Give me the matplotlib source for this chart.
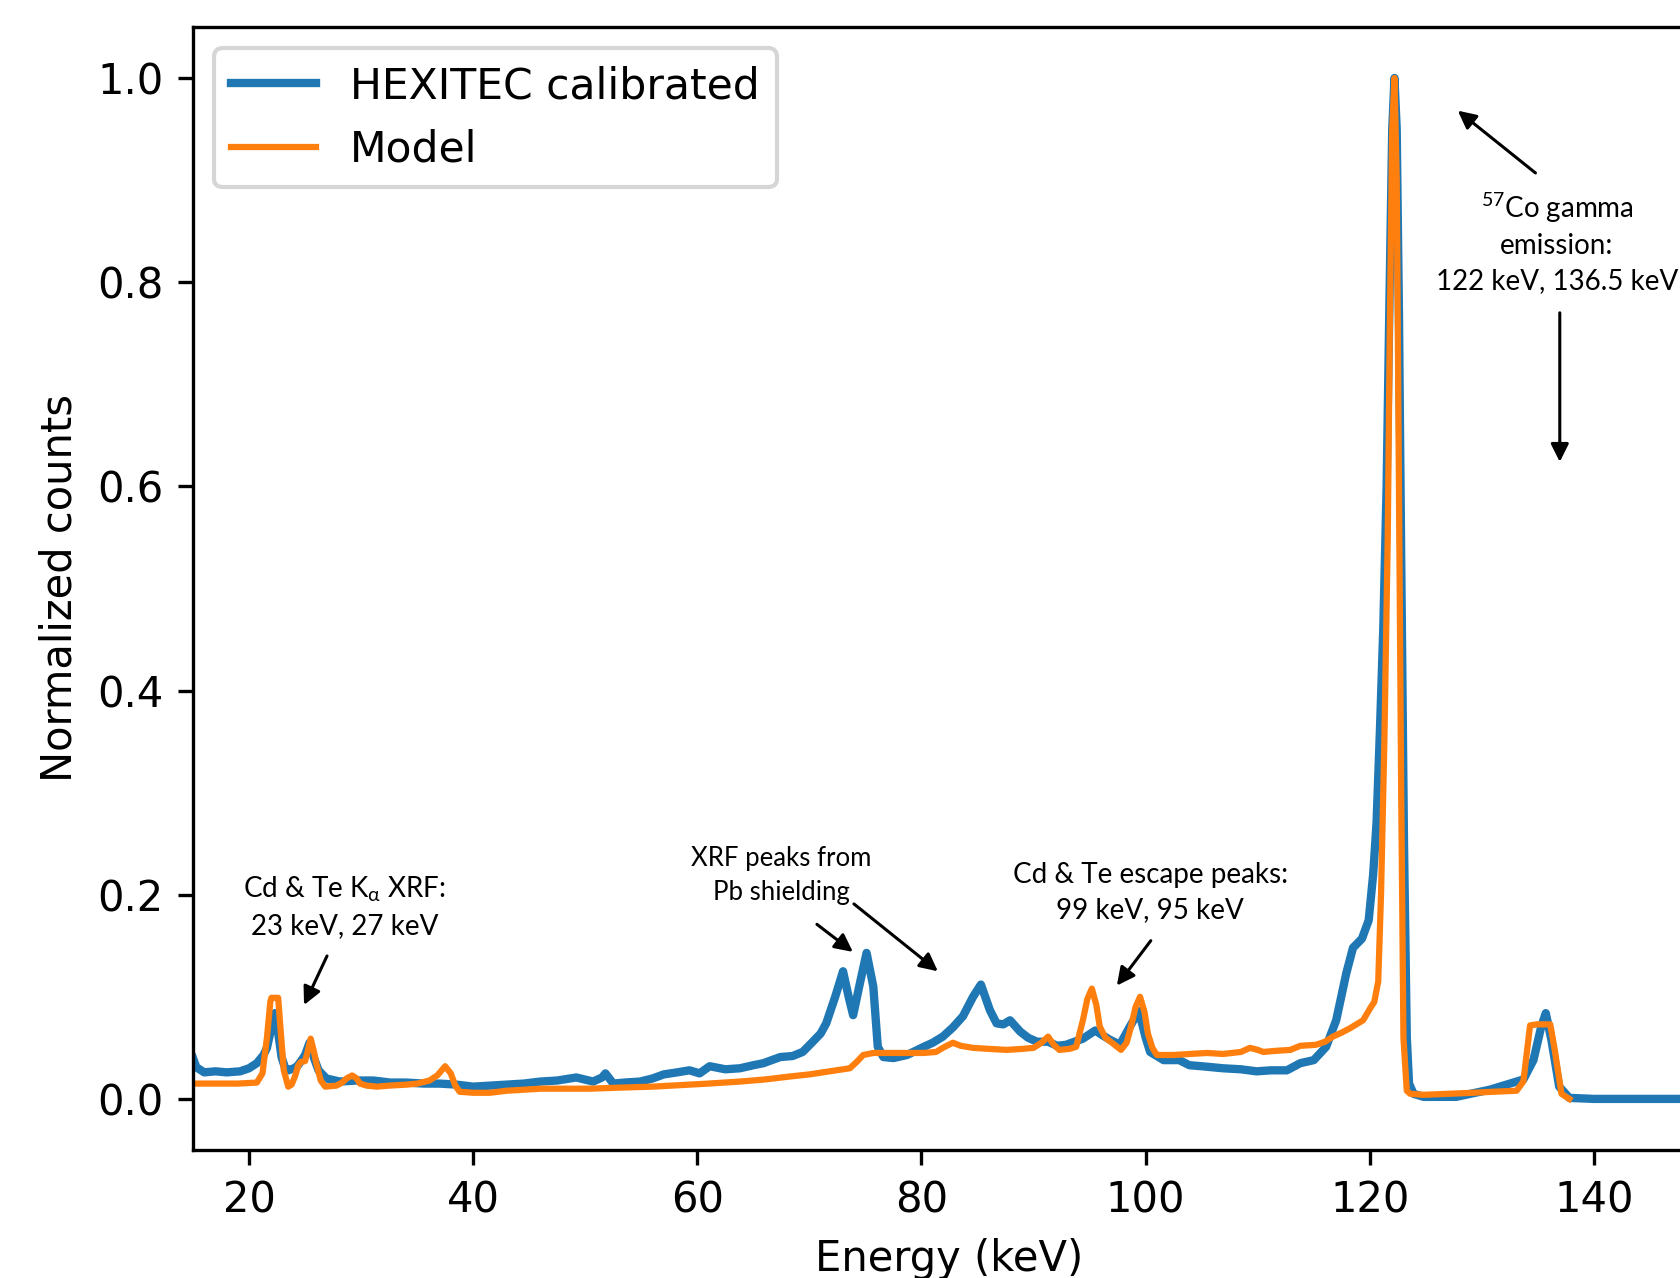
import numpy as np
import matplotlib
matplotlib.use("Agg")
import matplotlib.pyplot as plt

# HEXITEC calibrated spectrum
hex_energy = [15.0, 15.3, 16.0, 17.0, 18.0, 19.2, 20.0, 20.7, 21.3, 21.6, 22.0, 22.3, 22.6, 22.9,
              23.2, 23.5, 24.0, 24.3, 24.7, 25.0, 25.4, 25.8, 26.2, 26.9, 28.1, 29.6, 31.1, 32.6,
              34.0, 35.6, 37.0, 38.5, 40.0, 41.5, 43.0, 44.5, 46.0, 47.5, 49.2, 50.7, 51.5, 51.8,
              52.5, 53.5, 54.9, 56.0, 57.0, 58.2, 59.3, 60.2, 61.1, 62.5, 63.8, 65.0, 65.9, 67.4,
              68.5, 69.4, 70.3, 71.0, 71.5, 72.3, 73.0, 73.5, 73.9, 74.5, 75.1, 75.7, 76.1, 76.6,
              77.5, 78.7, 80.2, 81.0, 81.9, 82.8, 83.7, 84.6, 85.3, 86.1, 86.7, 87.3, 87.9, 88.8,
              89.5, 90.3, 91.3, 92.1, 92.9, 94.4, 95.5, 96.2, 96.8, 97.7, 98.6, 99.4, 100.0, 100.4,
              101.6, 103.0, 103.9, 105.0, 106.9, 108.5, 109.9, 111.2, 112.6, 113.8, 115.0, 116.1,
              117.0, 117.9, 118.5, 119.3, 119.9, 120.3, 120.6, 120.9, 121.2, 121.5, 121.75, 122.0,
              122.2, 122.4, 122.6, 122.8, 123.05, 123.3, 123.5, 123.9, 124.8, 127.7, 130.7, 132.2,
              133.7, 134.6, 135.3, 135.7, 136.2, 136.9, 137.8, 140.0, 150.0]
hex_counts = [0.040, 0.031, 0.026, 0.027, 0.026, 0.027, 0.030, 0.035, 0.043, 0.050, 0.070, 0.084,
              0.065, 0.041, 0.031, 0.028, 0.030, 0.032, 0.038, 0.043, 0.055, 0.040, 0.028, 0.020,
              0.017, 0.018, 0.018, 0.016, 0.016, 0.015, 0.015, 0.014, 0.012, 0.013, 0.014, 0.015,
              0.017, 0.018, 0.021, 0.017, 0.021, 0.025, 0.015, 0.016, 0.017, 0.020, 0.024, 0.026,
              0.028, 0.025, 0.032, 0.029, 0.030, 0.033, 0.035, 0.041, 0.042, 0.046, 0.056, 0.064,
              0.074, 0.100, 0.125, 0.100, 0.082, 0.113, 0.143, 0.110, 0.051, 0.041, 0.040, 0.043,
              0.051, 0.055, 0.061, 0.070, 0.081, 0.100, 0.112, 0.087, 0.074, 0.073, 0.077, 0.066,
              0.060, 0.056, 0.056, 0.052, 0.053, 0.059, 0.067, 0.062, 0.058, 0.053, 0.071, 0.086,
              0.060, 0.046, 0.038, 0.038, 0.033, 0.032, 0.030, 0.029, 0.027, 0.028, 0.028, 0.035,
              0.038, 0.051, 0.077, 0.123, 0.148, 0.157, 0.175, 0.22, 0.27, 0.36, 0.46, 0.60, 0.78,
              0.95, 1.0, 0.95, 0.77, 0.53, 0.25, 0.06, 0.015, 0.005, 0.002, 0.002, 0.009, 0.014,
              0.019, 0.038, 0.071, 0.084, 0.058, 0.012, 0.001, 0.0, 0.0]

# Model spectrum
model_energy = [15.0, 17.0, 19.0, 20.7, 21.2, 21.6, 21.9, 22.0, 22.6, 22.8, 23.1, 23.5, 23.8, 24.1,
                24.4, 24.6, 25.0, 25.2, 25.5, 25.8, 26.0, 26.4, 26.8, 27.8, 28.3, 28.7, 29.2, 29.6,
                29.9, 30.5, 31.4, 32.5, 34.1, 35.0, 36.1, 36.8, 37.5, 38.0, 38.4, 38.8, 40.0, 41.5,
                43.0, 44.5, 46.0, 48.0, 50.4, 53.0, 56.0, 59.3, 61.0, 63.8, 66.0, 68.3, 70.0, 71.8,
                73.6, 74.2, 74.8, 75.7, 77.8, 80.2, 81.3, 81.9, 82.8, 83.5, 84.6, 86.0, 87.6, 89.0,
                90.0, 90.7, 91.3, 91.8, 92.3, 93.2, 93.8, 94.4, 94.8, 95.2, 95.6, 95.9, 96.4, 97.0,
                97.8, 98.3, 98.7, 99.1, 99.5, 99.9, 100.2, 100.6, 101.0, 102.5, 103.9, 105.5, 106.9,
                108.5, 109.3, 110.0, 110.5, 111.5, 112.9, 113.8, 115.2, 116.0, 116.7, 117.5, 118.2,
                119.4, 120.1, 120.4, 120.75, 121.0, 121.3, 121.6, 121.8, 122.0, 122.2, 122.4, 122.6,
                122.8, 123.0, 123.3, 123.6, 124.8, 127.0, 129.2, 131.0, 133.1, 133.7, 134.3, 134.9,
                136.1, 136.5, 137.1, 137.8]
model_counts = [0.015, 0.015, 0.015, 0.016, 0.025, 0.060, 0.095, 0.099, 0.099, 0.070, 0.028, 0.012,
                0.014, 0.022, 0.033, 0.036, 0.037, 0.045, 0.059, 0.046, 0.035, 0.018, 0.012, 0.013,
                0.016, 0.020, 0.023, 0.020, 0.015, 0.013, 0.012, 0.013, 0.014, 0.015, 0.018, 0.023,
                0.032, 0.025, 0.013, 0.007, 0.006, 0.006, 0.008, 0.009, 0.010, 0.010, 0.010, 0.011,
                0.012, 0.014, 0.015, 0.017, 0.019, 0.022, 0.024, 0.027, 0.030, 0.036, 0.043, 0.045,
                0.045, 0.045, 0.046, 0.050, 0.055, 0.052, 0.050, 0.049, 0.048, 0.049, 0.050, 0.055,
                0.061, 0.053, 0.048, 0.049, 0.051, 0.077, 0.098, 0.108, 0.092, 0.071, 0.060, 0.055,
                0.048, 0.055, 0.071, 0.090, 0.100, 0.085, 0.064, 0.050, 0.043, 0.043, 0.044, 0.045,
                0.044, 0.046, 0.050, 0.048, 0.046, 0.047, 0.048, 0.052, 0.053, 0.056, 0.061, 0.065,
                0.069, 0.077, 0.090, 0.095, 0.115, 0.20, 0.35, 0.55, 0.77, 0.95, 1.0, 0.90, 0.60,
                0.30, 0.06, 0.008, 0.005, 0.004, 0.005, 0.006, 0.007, 0.008, 0.017, 0.072, 0.073,
                0.073, 0.048, 0.005, 0.0]

# annotations: text, text position, font size, arrows (tail, head)
notes = [
    (r"Cd & Te K$_\mathrm{\alpha}$ XRF:" + "\n23 keV, 27 keV", (28.5, 0.188), 20,
     [((26.96, 0.140), (24.91, 0.092))]),
    ("XRF peaks from\nPb shielding", (67.5, 0.219), 18.5,
     [((70.67, 0.171), (73.88, 0.144)), ((73.97, 0.191), (81.46, 0.125))]),
    ("Cd & Te escape peaks:\n99 keV, 95 keV", (100.4, 0.202), 20,
     [((100.46, 0.155), (97.43, 0.111))]),
    (r"$^{57}$Co gamma" + "\nemission:\n122 keV, 136.5 keV", (136.7, 0.839), 20,
     [((134.78, 0.907), (127.85, 0.968)), ((136.95, 0.770), (136.95, 0.624))]),
]

s = 3.0  # scale of the original figure
plt.rcParams.update({
    "font.size": 10 * s,
    "axes.linewidth": 0.8 * s,
    "xtick.major.size": 3.5 * s, "ytick.major.size": 3.5 * s,
    "xtick.major.width": 0.8 * s, "ytick.major.width": 0.8 * s,
    "xtick.major.pad": 3.5 * s, "ytick.major.pad": 3.5 * s,
    "axes.labelpad": 4 * s,
    "mathtext.fontset": "custom",
    "mathtext.rm": "Lato",
    "mathtext.it": "Lato:italic",
    "mathtext.fallback": "stixsans",
})

fig = plt.figure(figsize=(16.81, 12.78), dpi=100)
ax = fig.add_axes([0.1148, 0.1002, 0.9001, 0.8787])

ax.plot(hex_energy, hex_counts, color="#1f77b4", lw=2.0 * s, label="HEXITEC calibrated")
ax.plot(model_energy, model_counts, color="#ff7f0e", lw=1.5 * s, label="Model")

ax.set_xlim(15, 150)
ax.set_ylim(-0.05, 1.05)
ax.set_xticks([20, 40, 60, 80, 100, 120, 140])
ax.set_yticks([0.0, 0.2, 0.4, 0.6, 0.8, 1.0])
ax.set_xlabel("Energy (keV)")
ax.set_ylabel("Normalized counts")

leg = ax.legend(loc="upper left", fontsize=30.6)
leg.get_frame().set_linewidth(1.0 * s)

for txt, pos, fs, arrows in notes:
    ax.text(pos[0], pos[1], txt, ha="center", va="center", multialignment="center",
            fontfamily="Lato", fontsize=fs, linespacing=1.42)
    for tail, head in arrows:
        ax.annotate("", xy=head, xytext=tail,
                    arrowprops=dict(arrowstyle="-|>", color="k", lw=2.2,
                                    mutation_scale=27, shrinkA=0, shrinkB=0))

fig.savefig("out.png", dpi=100)
